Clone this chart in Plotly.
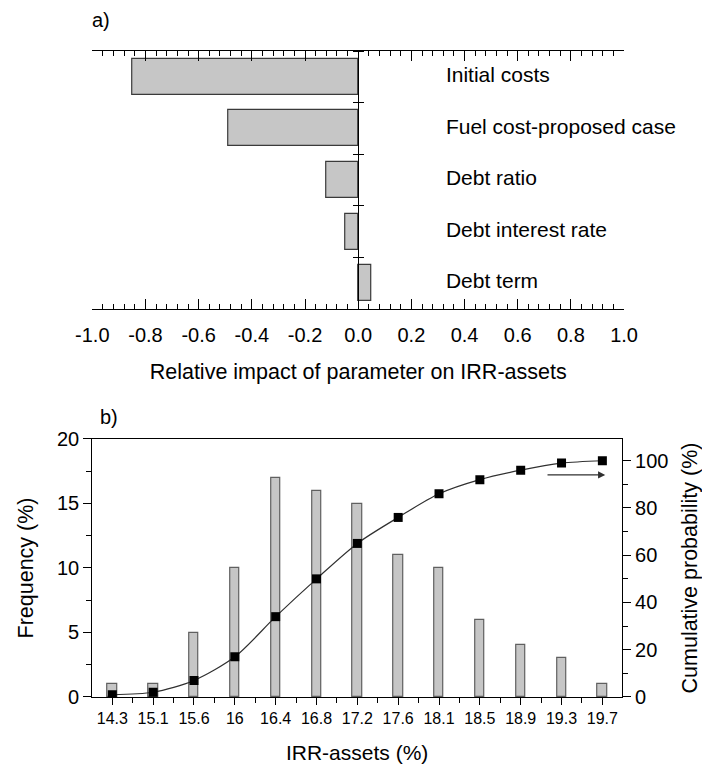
import plotly.graph_objects as go

# ---------------- data ----------------
params = ["Initial costs", "Fuel cost-proposed case", "Debt ratio",
          "Debt interest rate", "Debt term"]
impact = [-0.85, -0.49, -0.12, -0.05, 0.05]

irr_labels = ["14.3", "15.1", "15.6", "16", "16.4", "16.8", "17.2",
              "17.6", "18.1", "18.5", "18.9", "19.3", "19.7"]
frequency = [1, 1, 5, 10, 17, 16, 15, 11, 10, 6, 4, 3, 1]
cumulative = [1, 2, 7, 17, 34, 50, 65, 76, 86, 92, 96, 99, 100]

impact_ticks = [-1.0, -0.8, -0.6, -0.4, -0.2, 0.0, 0.2, 0.4, 0.6, 0.8, 1.0]

FONT = "Liberation Sans, Arial, sans-serif"
BAR_FILL = "#c6c6c6"
idx = list(range(len(irr_labels)))
label_x = 0.33  # where the parameter names start (data units of panel a)

fig = go.Figure()

# ---------------- panel a ----------------
fig.add_trace(go.Bar(
    x=impact, y=params, orientation="h", width=0.7,
    marker=dict(color=BAR_FILL, line=dict(color="#3a3a3a", width=1.2)),
    xaxis="x", yaxis="y", showlegend=False, hoverinfo="x+y"))
# parameter names, drawn on the overlaid category axis
fig.add_trace(go.Scatter(
    x=[label_x] * len(params), y=params, mode="text", text=params,
    textposition="middle right", textfont=dict(size=21, color="black"),
    cliponaxis=False,
    xaxis="x", yaxis="y3", showlegend=False, hoverinfo="skip"))

# ---------------- panel b ----------------
fig.add_trace(go.Bar(
    x=idx, y=frequency, width=0.23,
    marker=dict(color=BAR_FILL, line=dict(color="#606060", width=1.2)),
    xaxis="x2", yaxis="y2", showlegend=False))
fig.add_trace(go.Scatter(
    x=idx, y=cumulative, mode="lines+markers",
    line=dict(color="#303030", width=1.2, shape="spline", smoothing=0.8),
    marker=dict(symbol="square", size=9, color="black"),
    xaxis="x2", yaxis="y4", showlegend=False))

top_dom_x = [0.1315, 0.889]
bot_dom_x = [0.1315, 0.886]
zero_pos = top_dom_x[0] + 0.5 * (top_dom_x[1] - top_dom_x[0])

axis_common = dict(showgrid=False, zeroline=False, linecolor="black",
                   linewidth=1.3, tickcolor="black", automargin=False)

fig.update_layout(
    width=702, height=764,
    margin=dict(l=0, r=0, t=0, b=0),
    paper_bgcolor="white", plot_bgcolor="rgba(0,0,0,0)",
    font=dict(family=FONT, color="black", size=20),
    bargap=0,
    xaxis=dict(domain=top_dom_x, range=[-1, 1], anchor="y",
               tickvals=impact_ticks, ticktext=[f"{v:.1f}" for v in impact_ticks],
               ticks="inside", ticklen=10, tickwidth=1.3,
               minor=dict(dtick=0.04, tick0=0, ticks="inside", ticklen=5,
                          tickwidth=1.2, tickcolor="black", showgrid=False),
               showline=True, mirror="ticks", ticklabelstandoff=8,
               tickfont=dict(size=20),
               title=dict(text="Relative impact of parameter on IRR-assets",
                          font=dict(size=21.5), standoff=18),
               **axis_common),
    yaxis=dict(domain=[0.5955, 0.9332], type="category",
               categoryorder="array", categoryarray=params,
               range=[4.5, -0.5], anchor="free", position=zero_pos,
               side="left", showline=True, showticklabels=False,
               tickson="boundaries", ticks="outside", ticklen=5, tickwidth=1.3,
               **axis_common),
    yaxis3=dict(type="category", categoryorder="array", categoryarray=params,
                overlaying="y", range=[4.5, -0.5], anchor="free",
                position=zero_pos, side="right", showline=False,
                showticklabels=False, tickson="boundaries",
                ticks="outside", ticklen=5, tickwidth=1.3,
                **axis_common),
    xaxis2=dict(domain=bot_dom_x, range=[-0.49, 12.48], anchor="y2",
                tickvals=idx, ticktext=irr_labels,
                ticks="outside", ticklen=7, tickwidth=1.3,
                minor=dict(dtick=0.5, tick0=0.5, ticks="outside", ticklen=5,
                           tickwidth=1.2, tickcolor="black", showgrid=False),
                showline=True, mirror=True,
                tickfont=dict(size=16),
                title=dict(text="IRR-assets (%)", font=dict(size=21), standoff=22),
                **axis_common),
    yaxis2=dict(domain=[0.0877, 0.4254], range=[0, 20], anchor="x2",
                tickvals=[0, 5, 10, 15, 20], ticks="outside", ticklen=8,
                tickwidth=1.3,
                minor=dict(dtick=2.5, ticks="outside", ticklen=5, tickwidth=1.2,
                           tickcolor="black", showgrid=False),
                showline=True, tickfont=dict(size=20),
                title=dict(text="Frequency (%)", font=dict(size=21.5), standoff=17),
                **axis_common),
    yaxis4=dict(overlaying="y2", range=[0, 109.2], anchor="x2", side="right",
                tickvals=[0, 20, 40, 60, 80, 100], ticks="outside", ticklen=8,
                tickwidth=1.3,
                minor=dict(dtick=10, ticks="outside", ticklen=5, tickwidth=1.2,
                           tickcolor="black", showgrid=False),
                showline=True, tickfont=dict(size=20),
                title=dict(text="Cumulative probability (%)", font=dict(size=21.5),
                           standoff=16),
                **axis_common),
)

# arrow pointing to the right axis
arrow_from, arrow_to, arrow_y = 10.62, 12.07, 94
fig.add_annotation(x=arrow_to, y=arrow_y, ax=arrow_from, ay=arrow_y,
                   xref="x2", yref="y4", axref="x2", ayref="y4",
                   showarrow=True, arrowhead=2, arrowsize=1.3, arrowwidth=1.1,
                   arrowcolor="#303030", text="")

# panel letters
fig.add_annotation(x=0.128, y=1 - 20 / 764, xref="paper", yref="paper",
                   text="a)", showarrow=False, xanchor="left", yanchor="middle",
                   font=dict(size=20))
fig.add_annotation(x=0.139, y=1 - 417 / 764, xref="paper", yref="paper",
                   text="b)", showarrow=False, xanchor="left", yanchor="middle",
                   font=dict(size=20))

fig.write_html("out.html")
